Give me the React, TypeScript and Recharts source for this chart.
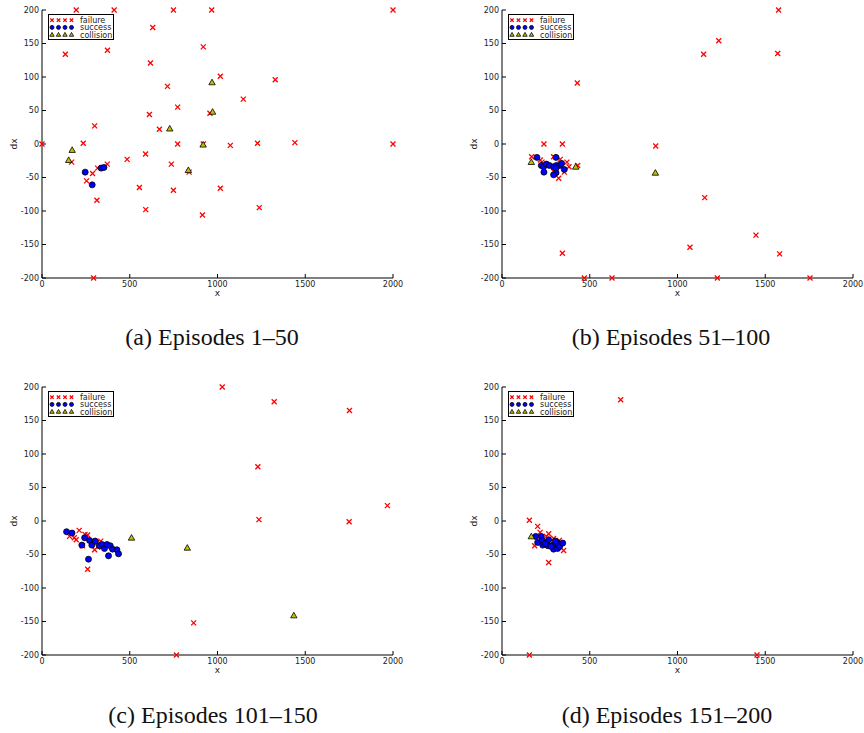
import { ScatterChart, Scatter, XAxis, YAxis, Legend } from "recharts";

// tick values shared by all four panels
const xTicks = [0, 500, 1000, 1500, 2000];
const dxTicks = [-200, -150, -100, -50, 0, 50, 100, 150, 200];
const seriesOrder = ["failure", "success", "collision"];

// (a) episodes 1-50, [x, dx]
const failureA = [
  [195, 200], [411, 200], [749, 200], [967, 200], [2000, 200],
  [631, 174], [133, 134], [373, 140], [919, 145], [618, 121], [1016, 101], [715, 86],
  [1329, 96], [1147, 67], [773, 55], [612, 44], [957, 46], [300, 27], [669, 22],
  [0, 0], [235, 1], [773, 0], [919, 0], [1073, -2], [1228, 1], [1441, 2], [2000, 0],
  [590, -15], [485, -23], [737, -30], [169, -27], [372, -30], [317, -36], [288, -44],
  [254, -55], [555, -65], [749, -69], [1016, -66], [313, -84], [591, -98], [914, -106],
  [1238, -95], [294, -200], [838, -42],
];
const successA = [[246, -42], [286, -61], [337, -36], [353, -35]];
const collisionA = [[152, -24], [172, -9], [728, 23], [969, 92], [972, 48], [918, -1], [834, -39]];

// (b) episodes 51-100
const failureB = [
  [1576, 200], [1235, 154], [1149, 134], [1571, 135], [429, 91], [239, 0], [344, 0], [876, -3],
  [169, -19], [218, -24], [228, -27], [294, -19], [332, -23], [370, -27], [382, -34], [431, -32],
  [355, -42], [323, -51], [294, -41], [1155, -80], [344, -163], [1071, -154], [1447, -136],
  [1582, -164], [469, -200], [627, -200], [1227, -200], [1755, -200],
];
const successB = [
  [199, -20], [224, -32], [239, -42], [237, -34], [253, -30], [270, -32], [294, -34], [308, -20],
  [310, -32], [329, -32], [340, -29], [308, -43], [294, -46], [355, -38], [308, -36],
];
const collisionB = [[167, -27], [420, -34], [874, -43]];

// (c) episodes 101-150
const failureC = [
  [1027, 200], [1323, 178], [1752, 165], [1230, 81], [1236, 2], [1968, 23], [1750, -1],
  [864, -152], [766, -200], [260, -72], [212, -14], [157, -23], [184, -25], [195, -28],
  [245, -20], [260, -21], [231, -37], [313, -32], [335, -30], [300, -43], [341, -39],
];
const successC = [
  [140, -16], [171, -18], [227, -36], [243, -25], [265, -57], [271, -29], [284, -36], [303, -30],
  [326, -37], [341, -35], [356, -41], [370, -35], [379, -52], [389, -37], [402, -42], [427, -43],
  [436, -49],
];
const collisionC = [[510, -25], [828, -40], [1435, -141]];

// (d) episodes 151-200
const failureD = [
  [676, 181], [156, 1], [203, -8], [217, -17], [266, -19], [294, -26], [186, -37], [266, -62],
  [351, -44], [327, -29], [253, -23], [156, -200], [1453, -200],
];
const successD = [
  [192, -23], [203, -32], [224, -23], [228, -29], [232, -36], [253, -32], [266, -28], [262, -37],
  [291, -36], [294, -42], [317, -33], [317, -41], [329, -38], [346, -33], [304, -30], [245, -34],
  [280, -38],
];
const collisionD = [[167, -23]];

const captions = [
  "(a) Episodes 1\u201350",
  "(b) Episodes 51\u2013100",
  "(c) Episodes 101\u2013150",
  "(d) Episodes 151\u2013200",
];

const toPoints = (pairs: number[][]) => pairs.map(([x, dx]) => ({ x, dx }));

const tickFont = { fontFamily: "DejaVu Sans", fontSize: 8, fill: "#222" };

const Cross = ({ cx, cy, s = 2.5 }: any) => (
  <path
    d={`M${cx - s},${cy - s}L${cx + s},${cy + s}M${cx - s},${cy + s}L${cx + s},${cy - s}`}
    stroke="#ff0000"
    strokeWidth={1.3}
    fill="none"
  />
);
const Dot = ({ cx, cy, r = 3 }: any) => (
  <circle cx={cx} cy={cy} r={r} fill="#0000ff" stroke="#000" strokeWidth={0.8} />
);
const Tri = ({ cx, cy, s = 3.2 }: any) => (
  <polygon
    points={`${cx},${cy - s} ${cx + s},${cy + s * 0.75} ${cx - s},${cy + s * 0.75}`}
    fill="#bfbf00"
    stroke="#000"
    strokeWidth={0.8}
  />
);

const markers: Record<string, any> = { failure: Cross, success: Dot, collision: Tri };

function LegendBox({ payload }: any) {
  const names = (payload || []).map((p: any) => p.value);
  const rows = seriesOrder.filter((n) => names.includes(n));
  return (
    <svg width={66} height={26} style={{ display: "block" }}>
      <rect x={0.5} y={0.5} width={65} height={25} fill="#fff" stroke="#000" strokeWidth={1} />
      {rows.map((name: string, i: number) => {
        const M = markers[name];
        const y = 6.2 + i * 7.2;
        return (
          <g key={name}>
            {[4, 10.5, 17, 23.5].map((x) => (
              <M key={x} cx={x} cy={y} s={name === "failure" ? 1.7 : 2.2} r={2} />
            ))}
            <text x={32} y={y + 3} fontFamily="DejaVu Sans" fontSize={8} fill="#222">
              {name}
            </text>
          </g>
        );
      })}
    </svg>
  );
}

function DxTitle({ viewBox }: any) {
  const x = viewBox.x + 14;
  const y = viewBox.y + viewBox.height / 2;
  return (
    <text x={x} y={y} transform={`rotate(-90 ${x} ${y})`} textAnchor="middle"
      fontFamily="DejaVu Sans" fontSize={9} fill="#222" dy={3}>
      dx
    </text>
  );
}

function XTitle({ viewBox }: any) {
  return (
    <text x={viewBox.x + viewBox.width / 2} y={viewBox.y + 18} textAnchor="middle"
      fontFamily="DejaVu Sans" fontSize={9} fill="#222">
      x
    </text>
  );
}

function Panel({ left, top, failure, success, collision }: any) {
  return (
    <div style={{ position: "absolute", left, top }}>
      <ScatterChart width={404} height={300} margin={{ top: 10, right: 11, bottom: 0, left: 0 }}>
        <XAxis dataKey="x" type="number" domain={[0, 2000]} ticks={xTicks} height={22}
          tickSize={-4} tickMargin={7} tick={tickFont} stroke="#000" label={<XTitle />} />
        <YAxis dataKey="dx" type="number" domain={[-200, 200]} ticks={dxTicks} width={42}
          tickSize={-4} tickMargin={7} tick={tickFont} stroke="#000" label={<DxTitle />} />
        <XAxis xAxisId="top" orientation="top" dataKey="x" type="number" domain={[0, 2000]}
          ticks={xTicks} height={0} tickSize={-4} tick={false} stroke="#000" />
        <YAxis yAxisId="right" orientation="right" dataKey="dx" type="number" domain={[-200, 200]}
          ticks={dxTicks} width={0} tickSize={-4} tick={false} stroke="#000" />
        <Legend layout="vertical" align="center" verticalAlign="middle" content={<LegendBox />}
          wrapperStyle={{ left: 48, top: 14, width: 66, height: 26 }} />
        <Scatter name="failure" data={toPoints(failure)} shape={<Cross />} isAnimationActive={false} />
        <Scatter name="success" data={toPoints(success)} shape={<Dot />} isAnimationActive={false} />
        <Scatter name="collision" data={toPoints(collision)} shape={<Tri />} isAnimationActive={false} />
      </ScatterChart>
    </div>
  );
}

function Caption({ text, cx, top }: any) {
  return (
    <div style={{ position: "absolute", left: cx - 150, top, width: 300, textAlign: "center",
      fontFamily: "'Liberation Serif', 'Times New Roman', serif", fontSize: 24,
      lineHeight: "24px", color: "#111" }}>
      {text}
    </div>
  );
}

export default function App() {
  return (
    <div style={{ position: "absolute", left: 0, top: 0, width: 864, height: 733,
      background: "#fff", overflow: "hidden" }}>
      <Panel left={0} top={0} failure={failureA} success={successA} collision={collisionA} />
      <Panel left={460} top={0} failure={failureB} success={successB} collision={collisionB} />
      <Panel left={0} top={377} failure={failureC} success={successC} collision={collisionC} />
      <Panel left={460} top={377} failure={failureD} success={successD} collision={collisionD} />
      <Caption text={captions[0]} cx={212} top={325} />
      <Caption text={captions[1]} cx={671} top={325} />
      <Caption text={captions[2]} cx={213} top={703} />
      <Caption text={captions[3]} cx={667} top={703} />
    </div>
  );
}
